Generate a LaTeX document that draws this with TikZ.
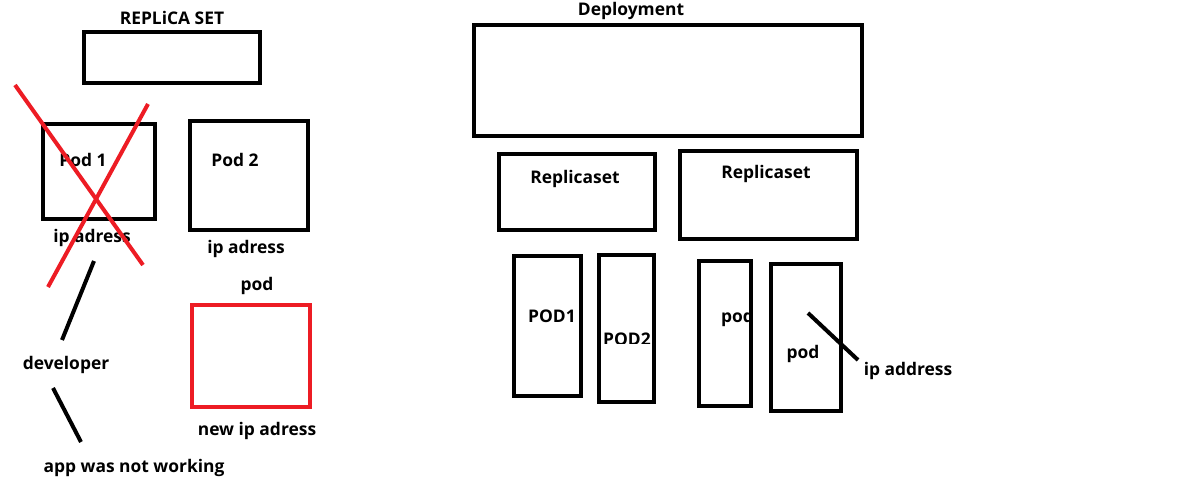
\documentclass[tikz,border=0pt]{standalone}
\usepackage{fontspec}
\setmainfont{Open Sans}
\definecolor{PaintRed}{RGB}{237,28,36}

\begin{document}
\begin{tikzpicture}[x=1pt,y=-1pt,
  box/.style n args={2}{draw,line width=4pt,rectangle,inner sep=0pt,minimum width=#1pt,minimum height=#2pt},
  lbl/.style={anchor=base,inner sep=0pt,font=\bfseries\fontsize{17.4}{20}\selectfont},
  stroke/.style={line width=4pt}]
\useasboundingbox (0,0) rectangle (1188,500);
% old replica set
\node[lbl] (rsT) at (172,25) {REPLiCA SET};
\node[box={176}{51}] (rs) at (172,57.5) {};
\node[lbl] (p1T) at (83,166) {Pod 1};
\node[box={112}{95}] (p1) at (99,171.5) {};
\node[lbl] (p2T) at (235,166) {Pod 2};
\node[box={118}{109}] (p2) at (249,175.5) {};
\node[lbl] (ip1) at (92,242) {ip adress};
\node[lbl] (ip2) at (246,253) {ip adress};
\draw[stroke,PaintRed] (15,85) -- (143,265);
\draw[stroke,PaintRed] (148,104) -- (48,287);
\node[lbl] (npT) at (257,290) {pod};
\node[box={118}{102},PaintRed] (np) at (251,356) {};
\node[lbl] (nip) at (257,435) {new ip adress};
\node[lbl] (dev) at (66,369) {developer};
\node[lbl] (app) at (134,472) {app was not working};
\coordinate (c1) at (94,261);
\coordinate (c2) at (62,340);
\coordinate (c3) at (53,388);
\coordinate (c4) at (81,442);
\draw[stroke] (c1) -- (c2);
\draw[stroke] (c3) -- (c4);
% deployment
\node[lbl] (depT) at (631,16) {Deployment};
\node[box={388}{111}] (dep) at (668,80.5) {};
\node[lbl] (rsaT) at (575,183) {Replicaset};
\node[box={156}{76}] (rsa) at (577,192) {};
\node[lbl] (rsbT) at (766,178) {Replicaset};
\node[box={177}{88}] (rsb) at (768.5,195) {};
\node[lbl] (paT) at (552,322) {POD1};
\node[box={67}{140}] (pa) at (547.5,326) {};
\begin{scope}
  \clip (599,255) rectangle (654,343);
  \node[lbl,anchor=base west] (pbT) at (603,345) {POD2};
\end{scope}
\node[box={55}{147}] (pb) at (626.5,328.5) {};
\node[lbl,anchor=base west] (pcT) at (721,322) {pod};
\node[box={52}{145}] (pc) at (725,333.5) {};
\node[lbl] (pdT) at (803,358) {pod};
\node[box={70}{147}] (pd) at (806,337.5) {};
\node[lbl] (ipd) at (908,375) {ip address};
\coordinate (c5) at (808,313);
\coordinate (c6) at (858,360);
\draw[stroke] (c5) -- (c6);
\end{tikzpicture}
\end{document}
